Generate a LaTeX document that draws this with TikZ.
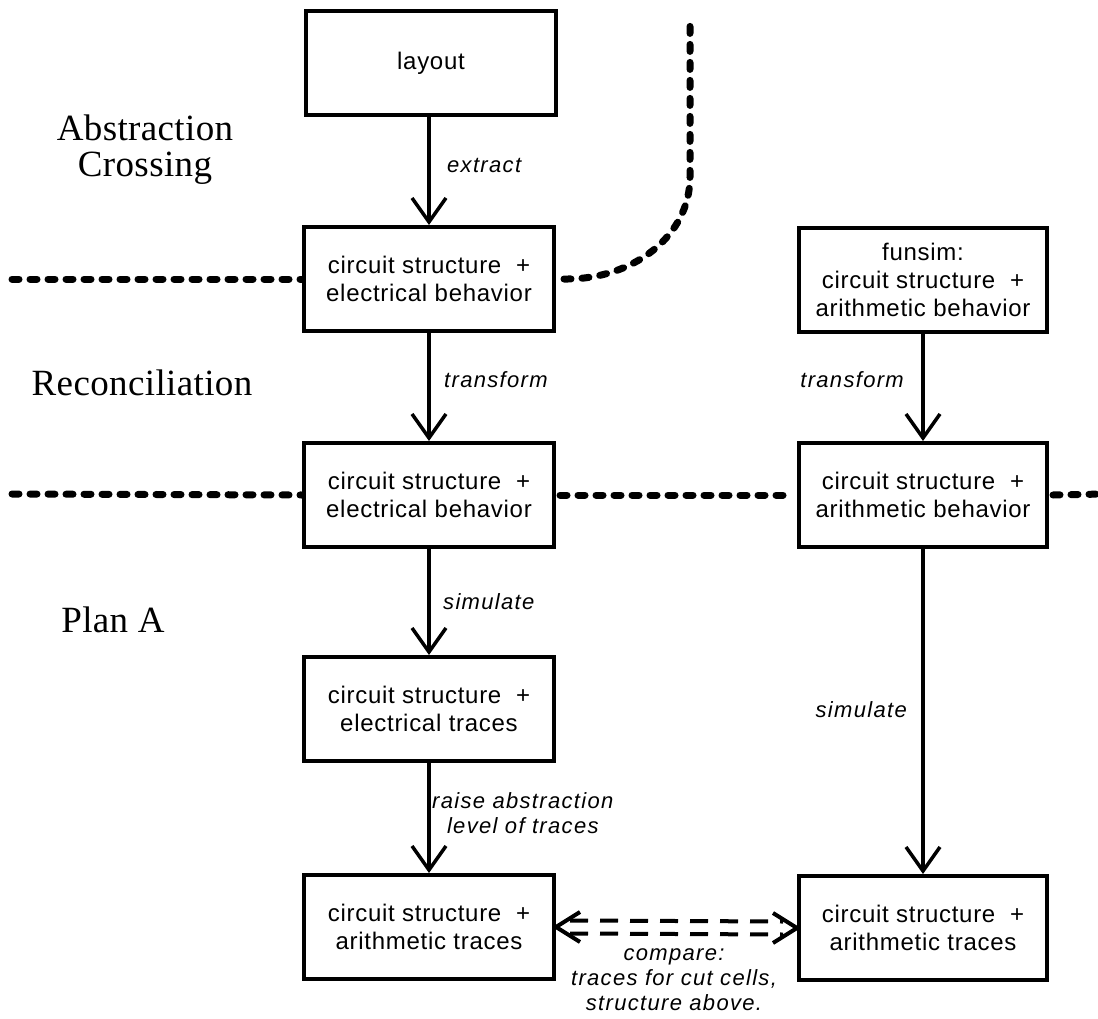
\documentclass[tikz,border=0pt]{standalone}
\usepackage{fontspec}
\setmainfont{Liberation Serif}
\newfontfamily\boxfamily[LetterSpace=3]{Liberation Sans}
\newfontfamily\lblfamily[LetterSpace=6]{Liberation Sans}
\newfontfamily\headfamily[LetterSpace=1]{Liberation Serif}
\usetikzlibrary{arrows.meta}

\tikzset{
  stagebox/.style={draw, line width=4pt, minimum width=250pt, minimum height=104pt,
    inner sep=0pt, align=center, font=\boxfamily\fontsize{24pt}{28pt}\selectfont},
  steparrow/.style={line width=3.5pt, -{Straight Barb[length=24pt,width=34pt,line width=3.5pt]}},
  steplabel/.style={font=\lblfamily\itshape\fontsize{22pt}{25pt}\selectfont, inner sep=0pt, align=center},
  levelname/.style={font=\headfamily\fontsize{37pt}{36pt}\selectfont, inner sep=0pt, align=center},
  boundary/.style={line width=7pt, line cap=round, dash pattern=on 7pt off 11pt},
  cmpline/.style={line width=4pt, dash pattern=on 18pt off 12pt},
  cmphead/.style={line width=4pt, line join=miter}
}

\begin{document}
\begin{tikzpicture}[x=1pt, y=-1pt]
\useasboundingbox (0,0) rectangle (1098,1019);

% left column
\node[stagebox] (lay) at (431,63)  {layout};
\node[stagebox] (ceb1) at (429,279) {circuit structure \ +\\electrical behavior};
\node[stagebox] (ceb2) at (429,495) {circuit structure \ +\\electrical behavior};
\node[stagebox] (cet)  at (429,709) {circuit structure \ +\\electrical traces};
\node[stagebox] (catL) at (429,927) {circuit structure \ +\\arithmetic traces};

% right column
\node[stagebox, minimum width=248pt] (fun)  at (923,280) {funsim:\\circuit structure \ +\\arithmetic behavior};
\node[stagebox, minimum width=248pt] (cab)  at (923,495) {circuit structure \ +\\arithmetic behavior};
\node[stagebox, minimum width=248pt] (catR) at (923,928) {circuit structure \ +\\arithmetic traces};

% level names
\node[levelname] (abs) at (145,150) {Abstraction\\Crossing};
\node[levelname] (rec) at (142,383) {Reconciliation};
\node[levelname] (pla) at (113,620) {Plan A};

% steps
\draw[steparrow] (ceb1.north |- lay.south) -- (ceb1.north);
\draw[steparrow] (ceb1) -- (ceb2);
\draw[steparrow] (ceb2) -- (cet);
\draw[steparrow] (cet) -- (catL);
\draw[steparrow] (fun) -- (cab);
\draw[steparrow] (cab) -- (catR);

\node[steplabel, anchor=west] (lx)  at (447,165) {extract};
\node[steplabel, anchor=west] (lt1) at (444,380) {transform};
\node[steplabel, anchor=east] (lt2) at (904,380) {transform};
\node[steplabel, anchor=west] (ls1) at (443,602) {simulate};
\node[steplabel, anchor=east] (ls2) at (907,710) {simulate};
\node[steplabel, anchor=west] (lr)  at (432,813) {raise abstraction\\level of traces};
\node[steplabel] (lc) at (674,980) {compare:\\traces for cut cells,\\structure above.};

% level boundaries
\coordinate (b1w) at (12,279);
\coordinate (ctop) at (690,17);
\coordinate (b2w) at (12,494);
\coordinate (b2e) at (1104,494);
\draw[boundary] (b1w) -- (ceb1.west);
\draw[boundary] ([xshift=8pt]ceb1.east) .. controls (633,280) and (690,236) .. (690,177) -- (ctop);
\draw[boundary] (b2w) -- (ceb2.west);
\draw[boundary] ([xshift=4pt]ceb2.east) -- ([xshift=-4pt]cab.west);
\draw[boundary] ([xshift=4pt]cab.east) -- (b2e);

% comparison
\draw[cmpline] ([xshift=14pt,yshift=-6.5pt]catL.east) -- ([xshift=-14pt,yshift=-6.5pt]catR.west);
\draw[cmpline] ([xshift=14pt,yshift=6.5pt]catL.east) -- ([xshift=-14pt,yshift=6.5pt]catR.west);
\draw[cmphead] ([xshift=24pt,yshift=-15pt]catL.east) -- (catL.east) -- ([xshift=24pt,yshift=15pt]catL.east);
\draw[cmphead] ([xshift=-24pt,yshift=-15pt]catR.west) -- (catR.west) -- ([xshift=-24pt,yshift=15pt]catR.west);
\end{tikzpicture}
\end{document}
